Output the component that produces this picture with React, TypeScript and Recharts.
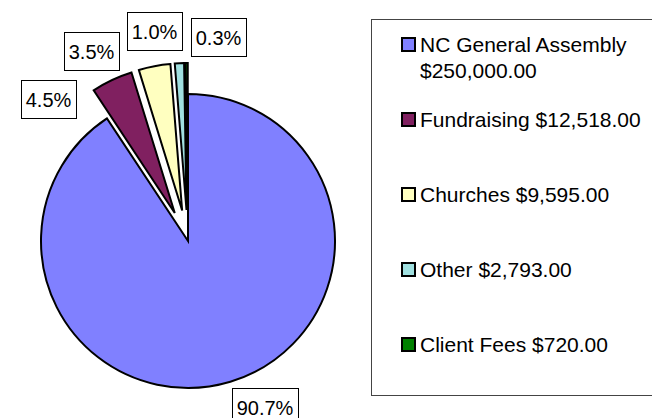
import { PieChart, Pie, Cell } from "recharts";

const sources = ["NC General Assembly", "Fundraising", "Churches", "Other", "Client Fees"];
const amounts = [250000, 12518, 9595, 2793, 720];
const sliceColors = ["#8080FF", "#802060", "#FFFFC0", "#A0E0E0", "#008000"];

// layout
const CX = 183;
const CY = 236;
const RADIUS = 147;
const explodePx = [0, 31, 31, 31, 31];
// nudges that mimic Excel's "best fit" label placement
const labelShift: [number, number][] = [[0, 0], [-33, 43], [-34, 10], [3, -7], [60, -1]];
const FONT = "'Liberation Sans', Arial, sans-serif";

const total = amounts.reduce((a, b) => a + b, 0);
const pieData = sources.map((name, i) => ({ name, value: amounts[i] }));

const offsets = amounts.map((v, i) => {
  const before = amounts.slice(0, i).reduce((a, b) => a + b, 0);
  const mid = ((before + v / 2) / total) * 2 * Math.PI;
  return { dx: explodePx[i] * Math.sin(mid), dy: -explodePx[i] * Math.cos(mid) };
});

const money = (v: number) =>
  "$" + v.toLocaleString("en-US", { minimumFractionDigits: 2, maximumFractionDigits: 2 });

const charW: Record<string, number> = { ".": 5.56, "%": 17.78 };
const textWidth = (s: string) => s.split("").reduce((w, c) => w + (charW[c] ?? 11.12), 0);

const makeLabel = (only: number) => (props: any) => {
  const { cx, cy, midAngle, outerRadius, index } = props;
  if (index !== only) return null;
  const text = ((amounts[index] / total) * 100).toFixed(1) + "%";
  const w = Math.round(textWidth(text) + 9);
  const h = 38;
  const rad = Math.PI / 180;
  const px = cx + (outerRadius + 6) * Math.cos(-midAngle * rad);
  const py = cy + (outerRadius + 6) * Math.sin(-midAngle * rad);
  const left = Math.round((px >= cx ? px : px - w) + labelShift[index][0]);
  const top = Math.round((py >= cy ? py : py - h) + labelShift[index][1]);
  return (
    <g>
      <rect x={left + 0.5} y={top + 0.5} width={w} height={h} fill="#fff" stroke="#000" strokeWidth={1} />
      <text
        x={left + w / 2}
        y={top + h / 2 + 1}
        textAnchor="middle"
        dominantBaseline="central"
        fontFamily={FONT}
        fontSize={20}
        fill="#000"
      >
        {text}
      </text>
    </g>
  );
};

export default function App() {
  return (
    <div style={{ position: "relative", width: 652, height: 418, overflow: "hidden", background: "#fff" }}>
      <style>{"body{margin:0}"}</style>
      <PieChart width={652} height={418} style={{ position: "absolute", left: 0, top: 0 }}>
        {pieData.map((_, k) => (
          <Pie
            key={k}
            data={pieData}
            dataKey="value"
            nameKey="name"
            cx={CX + offsets[k].dx}
            cy={CY + offsets[k].dy}
            outerRadius={RADIUS}
            startAngle={90}
            endAngle={-270}
            label={makeLabel(k)}
            labelLine={false}
            isAnimationActive={false}
          >
            {pieData.map((_, i) => (
              <Cell
                key={i}
                fill={i === k ? sliceColors[i] : "none"}
                stroke={i === k ? "#000" : "none"}
                strokeWidth={2}
              />
            ))}
          </Pie>
        ))}
      </PieChart>
      <div
        style={{
          position: "absolute",
          left: 371,
          top: 19,
          width: 300,
          height: 377,
          border: "1px solid #444",
          boxSizing: "border-box",
          fontFamily: FONT,
          fontSize: 21,
          color: "#000",
        }}
      >
        {sources.map((name, i) => (
          <div
            key={name}
            style={{ position: "absolute", left: 29, top: 12 + 75 * i, display: "flex", alignItems: "flex-start" }}
          >
            <span
              style={{
                display: "inline-block",
                width: 11,
                height: 11,
                marginTop: 5,
                border: "2px solid #000",
                background: sliceColors[i],
                flex: "none",
              }}
            />
            <span style={{ marginLeft: 4, lineHeight: "26px", width: 232 }}>
              {name} {money(amounts[i])}
            </span>
          </div>
        ))}
      </div>
    </div>
  );
}
